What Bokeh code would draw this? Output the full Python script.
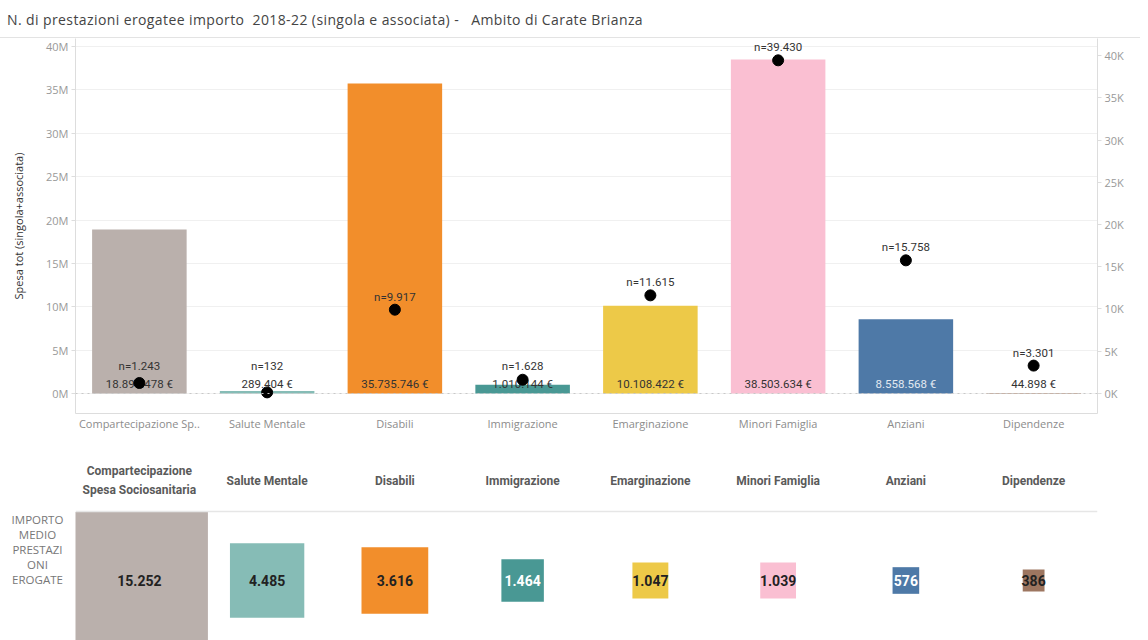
from bokeh.plotting import figure
from bokeh.models import (FactorRange, Range1d, LinearAxis, FixedTicker, Span,
                          Div, ColumnDataSource)
from bokeh.layouts import column, row
from bokeh.core.properties import value
from bokeh.embed import file_html
from bokeh.resources import INLINE

# ---------------- data ----------------
categories = ["Compartecipazione Sp..", "Salute Mentale", "Disabili", "Immigrazione",
              "Emarginazione", "Minori Famiglia", "Anziani", "Dipendenze"]
header_labels = ["Compartecipazione\nSpesa Sociosanitaria", "Salute Mentale", "Disabili",
                 "Immigrazione", "Emarginazione", "Minori Famiglia", "Anziani", "Dipendenze"]
row_label = ["IMPORTO", "MEDIO", "PRESTAZI", "ONI", "EROGATE"]
spesa = [18897478, 289404, 35735746, 1010144, 10108422, 38503634, 8558568, 44898]
n_prestazioni = [1243, 132, 9917, 1628, 11615, 39430, 15758, 3301]
importo_medio = [15252, 4485, 3616, 1464, 1047, 1039, 576, 386]
left_ticks = [0, 5000000, 10000000, 15000000, 20000000, 25000000, 30000000, 35000000, 40000000]
right_ticks = [0, 5000, 10000, 15000, 20000, 25000, 30000, 35000, 40000]

# ---------------- styles ----------------
colors = ["#BAB0AC", "#86BCB6", "#F28E2B", "#499894", "#EDC948", "#FABFD2", "#4E79A7", "#9D7660"]
bar_label_colors = ["#333333"] * 6 + ["#e3e9f1", "#333333"]
square_text_colors = ["#222222", "#222222", "#222222", "#ffffff", "#222222", "#222222", "#ffffff", "#222222"]
FONT = "Roboto"
AX_FONT = "Open Sans"
N_LABEL_FLOOR = 1660   # keep n= labels above the € labels
W = 1140
LEFT = 75
RIGHT = 43


def it(v):
    return f"{v:,}".replace(",", ".")


src = ColumnDataSource(dict(
    cat=categories,
    spesa=spesa,
    n=n_prestazioni,
    n_lbl_y=[max(v, N_LABEL_FLOOR) for v in n_prestazioni],
    spesa_lbl=[it(v) + " €" for v in spesa],
    n_lbl=["n=" + it(v) for v in n_prestazioni],
    color=colors,
    bar_lbl_color=bar_label_colors,
    header=header_labels,
    avg=importo_medio,
    avg_lbl=[it(v) for v in importo_medio],
    sq_size=[1.11 * v ** 0.5 for v in importo_medio],
    sq_txt=square_text_colors,
))

# ---------------- title ----------------
title = Div(text="N. di prestazioni erogatee importo&nbsp; 2018-22 (singola e associata) -&nbsp;&nbsp; Ambito di Carate Brianza",
            width=W, height=38, margin=(0, 0, 0, 0),
            styles={"font-family": AX_FONT, "font-size": "14px", "color": "#444444",
                    "letter-spacing": "0.4px",
                    "border-bottom": "1px solid #e3e3e3", "box-sizing": "border-box",
                    "padding-top": "10px", "padding-left": "7px", "white-space": "nowrap"})

# ---------------- top chart ----------------
p = figure(x_range=FactorRange(factors=categories, range_padding=0),
           y_range=Range1d(-2.305e6, 40.922e6), title=None,
           width=W, height=407, output_backend="svg", toolbar_location=None,
           min_border_left=LEFT, min_border_right=RIGHT, min_border_top=0, min_border_bottom=32)
p.outline_line_color = None
p.extra_y_ranges = {"n": Range1d(-2367, 42012)}

p.yaxis.ticker = FixedTicker(ticks=left_ticks)
p.yaxis.major_label_overrides = {t: f"{t // 1000000}M" for t in left_ticks}
p.yaxis.axis_label = "Spesa tot (singola+associata)"
p.yaxis.axis_label_text_font = AX_FONT
p.yaxis.axis_label_text_font_size = "11px"
p.yaxis.axis_label_text_font_style = "normal"
p.yaxis.axis_label_text_color = "#333333"
p.yaxis.axis_label_standoff = 17

ax_r = LinearAxis(y_range_name="n", ticker=FixedTicker(ticks=right_ticks),
                  major_label_overrides={t: f"{t // 1000}K" for t in right_ticks})
p.add_layout(ax_r, "right")

for ax in p.yaxis + [ax_r]:
    ax.major_label_text_font = AX_FONT
    ax.major_label_text_font_size = "11px"
    ax.major_label_text_color = "#999999"
    ax.axis_line_color = "#dddddd"
    ax.major_tick_line_color = "#dddddd"
    ax.major_tick_out = 4
    ax.major_tick_in = 0
    ax.minor_tick_line_color = None
    ax.major_label_standoff = 3

p.xaxis.major_label_text_font = AX_FONT
p.xaxis.major_label_text_font_size = "11px"
p.xaxis.major_label_text_color = "#8c8c8c"
p.xaxis.axis_line_color = "#dddddd"
p.xaxis.major_tick_line_color = None
p.xaxis.major_tick_out = 0
p.xaxis.major_tick_in = 0
p.xaxis.major_label_standoff = 2

p.xgrid.grid_line_color = None
p.ygrid.grid_line_color = "#f0f0f0"

p.add_layout(Span(location=0, dimension="width", line_color="#c8c8c8",
                  line_dash="dotted", line_width=1))

p.vbar(x="cat", top="spesa", bottom=0, width=0.74, fill_color="color",
       line_color=None, source=src)
p.text(x="cat", y=0, text="spesa_lbl", source=src, text_align="center",
       text_baseline="middle", y_offset=-10, text_font=value(FONT),
       text_font_size="11.5px", text_color="bar_lbl_color")
p.scatter(x="cat", y="n", y_range_name="n", size=11, fill_color="black",
          line_color="black", source=src)
p.text(x="cat", y="n_lbl_y", y_range_name="n", text="n_lbl", source=src,
       text_align="center", text_baseline="middle", y_offset=-13,
       text_font=value(FONT), text_font_size="11.5px", text_color="#333333")

# ---------------- bottom table ----------------
row_div = Div(text="<br>".join(row_label), width=LEFT, height=195, margin=(0, 0, 0, 0),
              styles={"font-family": AX_FONT, "font-size": "11.5px", "color": "#777777",
                      "line-height": "15px", "text-align": "center", "box-sizing": "border-box",
                      "padding-top": "67px", "width": f"{LEFT}px"})

q = figure(x_range=p.x_range, y_range=Range1d(195, 0), title=None,
           width=W - LEFT, height=195, output_backend="svg", toolbar_location=None,
           min_border_left=0, min_border_right=RIGHT, min_border_top=0, min_border_bottom=0)
q.axis.visible = False
q.grid.visible = False
q.outline_line_color = None

q.text(x="cat", y=35, text="header", source=src, text_align="center",
       text_baseline="middle", text_font=value(FONT), text_font_size="12px",
       text_font_style="bold", text_color="#5a5a5a", text_line_height=1.3)
q.add_layout(Span(location=66, dimension="width", line_color="#e6e6e6", line_width=1.5))
q.scatter(x="cat", y=135, marker="square", size="sq_size", fill_color="color",
          line_color=None, source=src)
q.text(x="cat", y=135, text="avg_lbl", source=src, text_align="center",
       text_baseline="middle", text_font=value(FONT), text_font_size="14px",
       text_font_style="bold", text_color="sq_txt")

layout = column(title, p, row(row_div, q, spacing=0), spacing=0)
open("out.html", "w").write(file_html(layout, INLINE))
